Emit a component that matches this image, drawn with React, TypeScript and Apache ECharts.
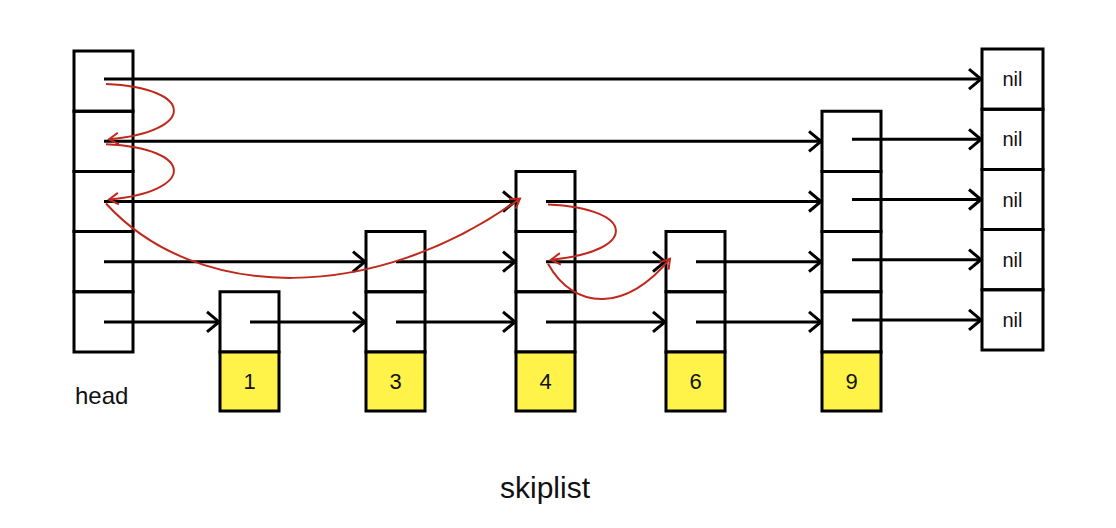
import React, { useEffect, useRef } from "react";
import * as echarts from "echarts";

// ---- data ----
const nodeKeys = [1, 3, 4, 6, 9];
const nodeLevels = [1, 2, 3, 2, 4];
const maxLevel = 5;
const headLabel = "head";
const nilLabel = "nil";
const title = "skiplist";
// search path for key 6: steps of ("down" at column/level) or ("fwd" from column to column at level)
const searchSteps = [
  { kind: "down", from: -1, level: 5 },
  { kind: "down", from: -1, level: 4 },
  { kind: "fwd", from: -1, to: 2, level: 3 },
  { kind: "down", from: 2, level: 3 },
  { kind: "fwd", from: 2, to: 3, level: 2 },
];

// ---- layout ----
const W = 1116, H = 528;
const headLeft = 74, nilLeft = 982;
const nodeLefts = [220, 366, 516, 666, 822];
const colW = 59, nilW = 61;
const cellBottom = 352, cellH = 60.2, keyH = 59;
const RED = "#c0281c";

const colLeft = (c: number) => (c === -1 ? headLeft : c === 99 ? nilLeft : nodeLefts[c]);
const rowTop = (l: number) => cellBottom - l * cellH;
const rowMid = (l: number) => rowTop(l) + cellH / 2;

type Box = { x0: number; y0: number; x1: number; y1: number; fill: string; label?: string; fs?: number };
const boxes: Box[] = [];
for (let l = 1; l <= maxLevel; l++) {
  boxes.push({ x0: headLeft, y0: rowTop(l), x1: headLeft + colW, y1: rowTop(l) + cellH, fill: "#fff" });
  boxes.push({ x0: nilLeft, y0: rowTop(l) - 2, x1: nilLeft + nilW, y1: rowTop(l) + cellH - 2, fill: "#fff", label: nilLabel, fs: 20 });
}
nodeKeys.forEach((k, i) => {
  for (let l = 1; l <= nodeLevels[i]; l++)
    boxes.push({ x0: nodeLefts[i], y0: rowTop(l), x1: nodeLefts[i] + colW, y1: rowTop(l) + cellH, fill: "#fff" });
  boxes.push({ x0: nodeLefts[i], y0: cellBottom, x1: nodeLefts[i] + colW, y1: cellBottom + keyH, fill: "#fff34a", label: String(k), fs: 22 });
});

type Arrow = { x0: number; x1: number; y: number };
const arrows: Arrow[] = [];
for (let l = 1; l <= maxLevel; l++) {
  const cols = [-1, ...nodeKeys.map((_, i) => i).filter((i) => nodeLevels[i] >= l), 99];
  for (let j = 0; j < cols.length - 1; j++)
    arrows.push({ x0: colLeft(cols[j]) + 30, x1: colLeft(cols[j + 1]), y: rowMid(l) + (cols[j + 1] === 99 ? -2 : 0) });
}

type Curve = number[][];
const curves: Curve[] = searchSteps.map((s: any) => {
  const x = colLeft(s.from) + 32;
  if (s.kind === "down") {
    const y0 = rowMid(s.level) + 3, y1 = rowMid(s.level - 1) - 2;
    return [[x, y0], [x + 90, y0 + 4], [x + 90, y1 - 8], [x + 3, y1]];
  }
  const y0 = rowMid(s.level) + 2;
  const x1 = colLeft(s.to) + 4, y1 = rowMid(s.level) - 3;
  const span = x1 - x;
  const dip = s.from === -1 ? 100 : 48;
  return [[x, y0], [x + span * 0.22, y0 + dip], [x + span * 0.65, y0 + dip], [x1, y1]];
});

export default function App() {
  const ref = useRef<HTMLDivElement>(null);
  useEffect(() => {
    document.body.style.margin = "0";
    const chart = echarts.init(ref.current!, undefined, { renderer: "svg" });
    const idx = (arr: any[]) => arr.map((_, i) => [i, 0]);
    chart.setOption({
      animation: false,
      backgroundColor: "#fff",
      grid: { left: 0, right: 0, top: 0, bottom: 0 },
      xAxis: { type: "value", min: 0, max: W, show: false },
      yAxis: { type: "value", min: 0, max: H, inverse: true, show: false },
      graphic: [
        { type: "text", left: 75, top: 383, style: { text: headLabel, font: "24px 'Liberation Sans'", fill: "#111" } },
        { type: "text", left: 500, top: 472, style: { text: title, font: "30px 'Liberation Sans'", fill: "#111" } },
      ],
      series: [
        {
          type: "custom", clip: false, data: idx(arrows), z: 1,
          renderItem: (p: any, api: any) => {
            const a = arrows[p.dataIndex];
            const s = api.coord([a.x0, a.y]), e = api.coord([a.x1, a.y]);
            return {
              type: "group",
              children: [
                { type: "line", shape: { x1: s[0], y1: s[1], x2: e[0] - 2, y2: e[1] }, style: { stroke: "#000", lineWidth: 3 } },
                { type: "polyline", shape: { points: [[e[0] - 13, e[1] - 10], [e[0] - 1, e[1]], [e[0] - 13, e[1] + 10]] }, style: { stroke: "#000", lineWidth: 3, fill: "none" } },
              ],
            };
          },
        },
        {
          type: "custom", clip: false, data: idx(boxes), z: 2,
          renderItem: (p: any, api: any) => {
            const b = boxes[p.dataIndex];
            const s = api.coord([b.x0, b.y0]), e = api.coord([b.x1, b.y1]);
            return {
              type: "rect",
              shape: { x: s[0], y: s[1], width: e[0] - s[0], height: e[1] - s[1] },
              style: { fill: b.fill === "#fff" ? "none" : b.fill, stroke: "#000", lineWidth: 3 },
              textContent: b.label ? { style: { text: b.label, font: `${b.fs}px 'Liberation Sans'`, fill: "#111" } } : undefined,
              textConfig: b.label ? { position: "inside" } : undefined,
            };
          },
        },
        {
          type: "custom", clip: false, data: idx(curves), z: 3,
          renderItem: (p: any, api: any) => {
            const c = curves[p.dataIndex].map((q) => api.coord(q));
            const [x1, y1] = c[3], [cx, cy] = c[2];
            const ang = Math.atan2(y1 - cy, x1 - cx);
            const L = 11, sp = 0.55;
            const h1 = [x1 - L * Math.cos(ang - sp), y1 - L * Math.sin(ang - sp)];
            const h2 = [x1 - L * Math.cos(ang + sp), y1 - L * Math.sin(ang + sp)];
            return {
              type: "group",
              children: [
                { type: "bezierCurve", shape: { x1: c[0][0], y1: c[0][1], cpx1: c[1][0], cpy1: c[1][1], cpx2: c[2][0], cpy2: c[2][1], x2: x1, y2: y1 }, style: { stroke: RED, lineWidth: 2, fill: "none" } },
                { type: "polyline", shape: { points: [h1, [x1, y1], h2] }, style: { stroke: RED, lineWidth: 2, fill: "none" } },
              ],
            };
          },
        },
      ],
    });
    return () => chart.dispose();
  }, []);
  return <div ref={ref} style={{ width: W, height: H }} />;
}
